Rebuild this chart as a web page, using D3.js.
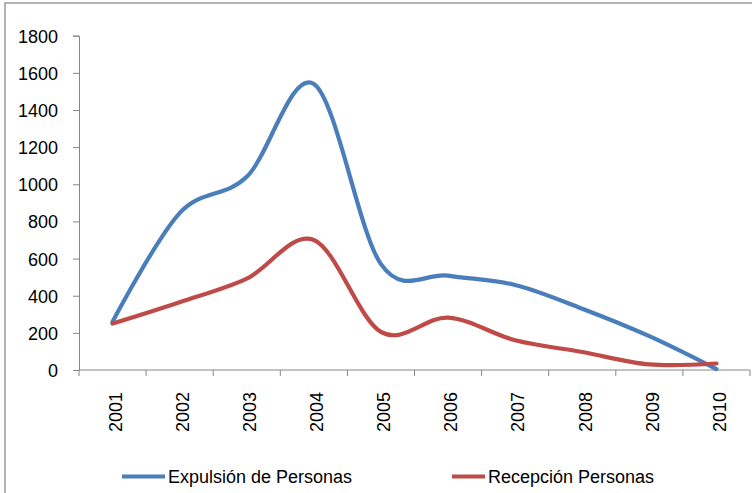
<!DOCTYPE html>
<html>
<head>
<meta charset="utf-8">
<script src="https://cdn.jsdelivr.net/npm/d3@7"></script>
<style>
  body { margin: 0; background: #fff; }
  svg { display: block; font-family: "Liberation Sans", Arial, sans-serif; }
  .axis path, .axis line { stroke: #868686; }
  .axis text { fill: #000; font-size: 18px; }
</style>
</head>
<body>
<div id="chart"></div>
<script>
// data
var years = ["2001", "2002", "2003", "2004", "2005", "2006", "2007", "2008", "2009", "2010"];
var expulsion = [260, 845, 1040, 1540, 570, 508, 458, 330, 182, 5];
var recepcion = [250, 365, 492, 700, 205, 282, 160, 97, 30, 35];
var yTicks = [0, 200, 400, 600, 800, 1000, 1200, 1400, 1600, 1800];
var seriesNames = ["Expulsión de Personas", "Recepción Personas"];
var seriesColors = ["#4A7EBB", "#BE4B48"];

var svgWidth = 752;
var svgHeight = 493;

var margin = { top: 35.7, right: 2, bottom: 123, left: 79 };
var width = svgWidth - margin.left - margin.right;
var height = svgHeight - margin.top - margin.bottom;

var svg = d3.select("#chart")
  .append("svg")
  .attr("width", svgWidth)
  .attr("height", svgHeight);

// outer chart frame (runs off the right and bottom edge)
svg.append("rect")
  .attr("x", 5)
  .attr("y", 3)
  .attr("width", 900)
  .attr("height", 700)
  .attr("fill", "none")
  .attr("stroke", "#9a9a9a")
  .attr("stroke-width", 1.5);

var chartGroup = svg.append("g")
  .attr("transform", `translate(${margin.left}, ${margin.top})`);

var xScale = d3.scaleBand()
  .domain(years)
  .range([0, width]);

var yScale = d3.scaleLinear()
  .domain([0, 1800])
  .range([height, 0]);

// y axis
var yAxis = d3.axisLeft(yScale)
  .tickValues(yTicks)
  .tickFormat(d3.format("d"))
  .tickSize(6)
  .tickPadding(15);

chartGroup.append("g")
  .attr("class", "axis")
  .call(yAxis)
  .call(g => g.selectAll("text").attr("dy", "0.36em"));

// x axis: ticks on band edges, labels rotated
var xAxisG = chartGroup.append("g")
  .attr("class", "axis")
  .attr("transform", `translate(0, ${height})`);

xAxisG.append("line")
  .attr("x1", 0)
  .attr("x2", width)
  .attr("y1", 0)
  .attr("y2", 0);

xAxisG.selectAll(".tick")
  .data(years.concat(["end"]))
  .enter()
  .append("line")
  .attr("x1", (d, i) => i * xScale.step())
  .attr("x2", (d, i) => i * xScale.step())
  .attr("y1", 0)
  .attr("y2", 6);

xAxisG.selectAll(".xlabel")
  .data(years)
  .enter()
  .append("text")
  .attr("class", "xlabel")
  .attr("transform", d => `translate(${xScale(d) + xScale.bandwidth() / 2 + 3}, 22) rotate(-90)`)
  .attr("text-anchor", "end")
  .attr("dy", "0.35em")
  .text(d => d);

// lines
var line = d3.line()
  .x((d, i) => xScale(years[i]) + xScale.bandwidth() / 2)
  .y(d => yScale(d))
  .curve(d3.curveCardinal.tension(0));

[expulsion, recepcion].forEach(function(values, i) {
  chartGroup.append("path")
    .datum(values)
    .attr("d", line)
    .attr("fill", "none")
    .attr("stroke", seriesColors[i])
    .attr("stroke-width", 4.2)
    .attr("stroke-linecap", "round");
});

// legend
var legendX = [122, 452];
var legend = svg.selectAll(".legend")
  .data(seriesNames)
  .enter()
  .append("g")
  .attr("class", "legend")
  .attr("transform", (d, i) => `translate(${legendX[i]}, 476.5)`);

legend.append("line")
  .attr("x1", 0)
  .attr("x2", (d, i) => i === 0 ? 43 : 33)
  .attr("stroke", (d, i) => seriesColors[i])
  .attr("stroke-width", 4.2);

legend.append("text")
  .attr("x", (d, i) => i === 0 ? 46 : 36)
  .attr("dy", "0.36em")
  .style("font-size", "18px")
  .text(d => d);
</script>
</body>
</html>
